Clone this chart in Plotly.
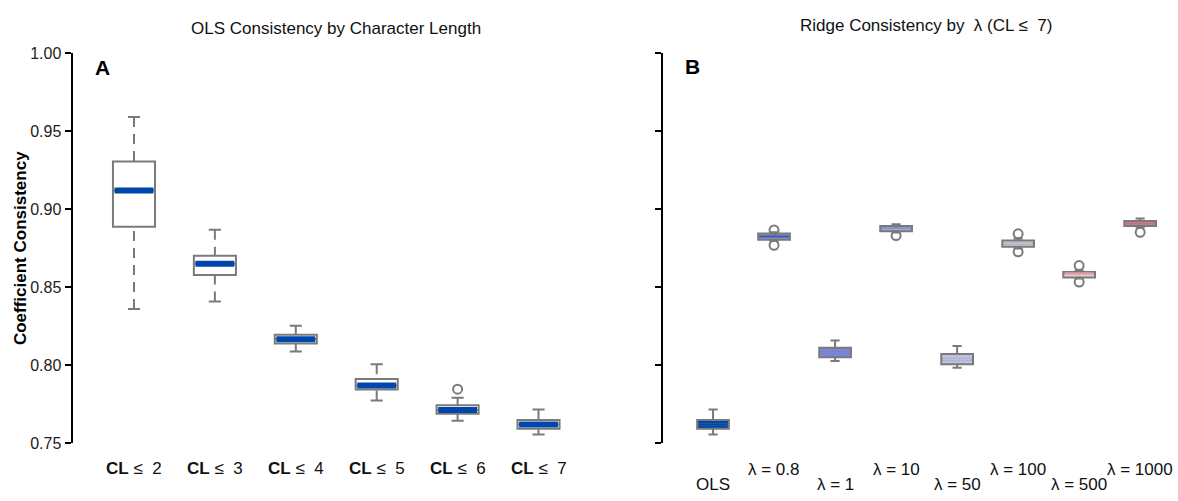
import plotly.graph_objects as go

# ---------------- Data ----------------
# Panel A: OLS consistency by character length
cl_labels = ["CL", "CL", "CL", "CL", "CL", "CL"]
cl_suffix = ["≤  2", "≤  3", "≤  4", "≤  5", "≤  6", "≤  7"]
cl_lower = [0.8360, 0.8407, 0.8087, 0.7774, 0.7644, 0.7556]
cl_q1 = [0.8887, 0.8578, 0.8139, 0.7844, 0.7689, 0.7593]
cl_median = [0.9119, 0.8650, 0.8166, 0.7870, 0.7712, 0.7620]
cl_q3 = [0.9304, 0.8700, 0.8195, 0.7912, 0.7743, 0.7648]
cl_upper = [0.9590, 0.8867, 0.8253, 0.8005, 0.7792, 0.7716]
cl_outliers = [[], [], [], [], [0.7846], []]

# Panel B: Ridge consistency by lambda (CL <= 7)
ridge_labels = ["OLS", "λ = 0.8", "λ = 1", "λ = 10", "λ = 50", "λ = 100", "λ = 500", "λ = 1000"]
ridge_lower = [0.7556, 0.8795, 0.8026, 0.8850, 0.7984, 0.8748, 0.8555, 0.8882]
ridge_q1 = [0.7593, 0.8803, 0.8051, 0.8857, 0.8005, 0.8758, 0.8562, 0.8892]
ridge_median = [0.7620, 0.8824, 0.8080, 0.8878, 0.8035, 0.8778, 0.8588, 0.8908]
ridge_q3 = [0.7648, 0.8844, 0.8111, 0.8892, 0.8071, 0.8799, 0.8597, 0.8923]
ridge_upper = [0.7716, 0.8852, 0.8158, 0.8902, 0.8122, 0.8810, 0.8605, 0.8940]
ridge_outliers = [[], [0.8866, 0.8768], [], [0.8830], [], [0.8841, 0.8726], [0.8638, 0.8532], [0.8851]]
ridge_fill = ["#0047ab", "#8c95d0", "#7b85db", "#a3a8d6", "#bcc0e2", "#d2d2dc", "#ecccd1", "#dfa7b0"]
ridge_medcol = ["#0047ab", "#4058c8", "#7b85db", "#8a92d2", "#bcc0e2", "#c2c2cf", "#e69ca6", "#d26c7c"]

y_ticks = [0.75, 0.80, 0.85, 0.90, 0.95, 1.00]

GRAY = "#7a7a7a"
BLUE = "#0047ab"
FONT = "Liberation Sans, Arial, sans-serif"
W, H = 1178, 501

BOX_W = 0.52
CAP = 0.075

fig = go.Figure()


def add_panel(xa, ya, lower, q1, med, q3, upper, outl, fills, medcols, medw):
    n = len(q1)
    xs = list(range(n))
    for i in xs:
        fig.add_trace(go.Box(
            x=[i], q1=[q1[i]], median=[med[i]], q3=[q3[i]],
            lowerfence=[q1[i]], upperfence=[q3[i]],
            width=BOX_W, whiskerwidth=0, boxpoints=False,
            fillcolor=fills[i], line=dict(color=GRAY, width=2),
            xaxis=xa, yaxis=ya, hoverinfo="skip"))
    # dashed whiskers (drawn from whisker end toward box)
    wx, wy = [], []
    for i in xs:
        wx += [i, i, None, i, i, None]
        wy += [upper[i], q3[i], None, lower[i], q1[i], None]
    fig.add_trace(go.Scatter(x=wx, y=wy, mode="lines",
                             line=dict(color=GRAY, width=2, dash="10px,7px"),
                             xaxis=xa, yaxis=ya, hoverinfo="skip"))
    # caps
    cx, cy = [], []
    for i in xs:
        cx += [i - CAP, i + CAP, None, i - CAP, i + CAP, None]
        cy += [upper[i], upper[i], None, lower[i], lower[i], None]
    fig.add_trace(go.Scatter(x=cx, y=cy, mode="lines",
                             line=dict(color=GRAY, width=2),
                             xaxis=xa, yaxis=ya, hoverinfo="skip"))
    # medians
    for i in xs:
        fig.add_trace(go.Scatter(x=[i - BOX_W / 2 + 0.02, i + BOX_W / 2 - 0.02],
                                 y=[med[i], med[i]], mode="lines",
                                 line=dict(color=medcols[i], width=medw),
                                 xaxis=xa, yaxis=ya, hoverinfo="skip"))
    # outliers
    ox, oy = [], []
    for i in xs:
        for v in outl[i]:
            ox.append(i)
            oy.append(v)
    if ox:
        fig.add_trace(go.Scatter(x=ox, y=oy, mode="markers",
                                 marker=dict(symbol="circle-open", size=9,
                                             color=GRAY, line=dict(width=2, color=GRAY)),
                                 xaxis=xa, yaxis=ya, hoverinfo="skip"))


add_panel("x", "y", cl_lower, cl_q1, cl_median, cl_q3, cl_upper, cl_outliers,
          ["white"] * len(cl_q1), [BLUE] * len(cl_q1), 6)
add_panel("x2", "y2", ridge_lower, ridge_q1, ridge_median, ridge_q3, ridge_upper,
          ridge_outliers, ridge_fill, ridge_medcol, 2)

ydom = [(H - 450.5) / H, (H - 46.5) / H]
yax = dict(range=[0.75, 1.00], domain=ydom, showgrid=False, zeroline=False,
           showline=True, linecolor="black", linewidth=2,
           ticks="outside", ticklen=6, tickwidth=2, tickcolor="black",
           tickvals=y_ticks)

annotations = []
# panel titles
annotations.append(dict(text="OLS Consistency by Character Length", xref="paper", yref="paper",
                        x=336 / W, y=1 - 21 / H, xanchor="center", yanchor="middle",
                        showarrow=False, font=dict(size=17, color="#111", family=FONT)))
annotations.append(dict(text="Ridge Consistency by  λ (CL ≤  7)", xref="paper", yref="paper",
                        x=926 / W, y=1 - 18 / H, xanchor="center", yanchor="middle",
                        showarrow=False, font=dict(size=17, color="#111", family=FONT)))
# panel letters
annotations.append(dict(text="<b>A</b>", xref="paper", yref="paper", x=93 / W, y=1 - 61.5 / H,
                        xanchor="left", yanchor="middle", showarrow=False,
                        font=dict(size=21, color="black", family=FONT)))
annotations.append(dict(text="<b>B</b>", xref="paper", yref="paper", x=683 / W, y=1 - 60.5 / H,
                        xanchor="left", yanchor="middle", showarrow=False,
                        font=dict(size=21, color="black", family=FONT)))
# y title
annotations.append(dict(text="<b>Coefficient Consistency</b>", xref="paper", yref="paper",
                        x=20 / W, y=(ydom[0] + ydom[1]) / 2, textangle=-90,
                        xanchor="center", yanchor="middle", showarrow=False,
                        font=dict(size=17, color="black", family=FONT)))
# x labels panel A
for i, (a, b) in enumerate(zip(cl_labels, cl_suffix)):
    annotations.append(dict(text=f"<b>{a}</b> {b}", xref="x", yref="paper", x=i,
                            y=1 - 477 / H, xanchor="center", yanchor="middle", showarrow=False,
                            font=dict(size=17, color="#111", family=FONT)))
# x labels panel B (alternating rows)
for i, lab in enumerate(ridge_labels):
    ypx = 477.5 if i % 2 == 1 else 493
    annotations.append(dict(text=lab, xref="x2", yref="paper", x=i,
                            y=1 - ypx / H, xanchor="center", yanchor="middle", showarrow=False,
                            font=dict(size=17, color="#111", family=FONT)))

fig.update_layout(
    width=W, height=H,
    margin=dict(l=0, r=0, t=0, b=0),
    paper_bgcolor="white", plot_bgcolor="white",
    showlegend=False,
    font=dict(family=FONT, size=17, color="#222"),
    xaxis=dict(domain=[72.5 / W, 600 / W], range=[-0.76, 5.76], showgrid=False,
               zeroline=False, showline=False, showticklabels=False, ticks=""),
    xaxis2=dict(domain=[663 / W, 1.0], range=[-0.82, 7.62], showgrid=False,
                zeroline=False, showline=False, showticklabels=False, ticks=""),
    yaxis=dict(**yax, anchor="x", tickformat=".2f", showticklabels=True,
               tickfont=dict(size=16, color="#222", family=FONT)),
    yaxis2=dict(**yax, anchor="x2", showticklabels=False),
    annotations=annotations,
)

fig.write_html("out.html")
